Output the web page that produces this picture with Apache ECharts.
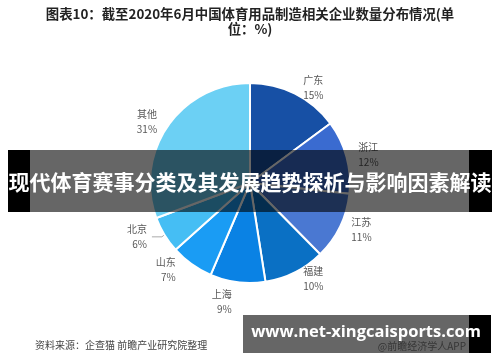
<!DOCTYPE html>
<html><head><meta charset="utf-8">
<script src="https://cdn.jsdelivr.net/npm/echarts@6/dist/echarts.min.js"></script>
<style>html,body{margin:0;padding:0;background:#fff}#c{width:500px;height:362px}</style>
</head><body><div id="c"></div>
<script>
const categories = ['广东','浙江','江苏','福建','上海','山东','北京','其他'];
const values = [15,12,11,10,9,7,6,31];
const colors = ['#1750a5','#3a6bd0','#4a78d2','#0a70c4','#0a82e4','#1a9cf4','#45bef4','#6cd0f4'];
const titleText = '图表10：截至2020年6月中国体育用品制造相关企业数量分布情况(单\n位：%)';
const sourceText = '资料来源：企查猫 前瞻产业研究院整理';
const bannerText = '现代体育赛事分类及其发展趋势探析与影响因素解读';
const siteText = 'www.net-xingcaisports.com';
const fontCJK = '"Noto Sans CJK SC", sans-serif';

const chart = echarts.init(document.getElementById('c'), null, {renderer:'canvas'});
chart.setOption({
  animation: false,
  backgroundColor: '#fff',
  series: [{
    type: 'pie',
    center: [250, 183],
    radius: [0, 100],
    startAngle: 90,
    clockwise: true,
    itemStyle: {borderColor: '#fff', borderWidth: 2},
    label: {
      show: true, position: 'outside',
      formatter: p => p.name + '\n' + p.value + '%',
      fontFamily: fontCJK, fontSize: 10, color: '#595959', lineHeight: 15
    },
    labelLine: {show: false, length: 7, length2: 0},
    emphasis: {disabled: true},
    data: categories.map((n, i) => ({
      name: n, value: values[i], itemStyle: {color: colors[i]},
      labelLine: n === '北京' ? {show: true, length: 4, length2: 10, lineStyle: {color: '#aaa', width: 1}} : undefined
    }))
  }],
  graphic: [
    {type: 'text', x: 250, y: 6, z: 10,
     style: {text: titleText, font: 'bold 13.4px ' + fontCJK, fill: '#222', align: 'center', lineHeight: 15}},
    {type: 'text', left: 35, top: 340, z: 10,
     style: {text: sourceText, font: '10px ' + fontCJK, fill: '#444'}},
    {type: 'rect', shape: {x: 8, y: 150, width: 22, height: 62}, style: {fill: '#000'}, z: 20},
    {type: 'rect', shape: {x: 30, y: 150, width: 439, height: 62}, style: {fill: 'rgba(0,0,0,0.6)'}, z: 20},
    {type: 'rect', shape: {x: 469, y: 150, width: 23, height: 62}, style: {fill: '#000'}, z: 20},
    {type: 'text', x: 250, y: 182, z: 21,
     style: {text: bannerText, font: 'bold 21px ' + fontCJK, fill: '#fff', align: 'center', verticalAlign: 'middle'}},
    {type: 'text', x: 466, y: 346, z: 19,
     style: {text: '@前瞻经济学人APP', font: '10px ' + fontCJK, fill: '#888', align: 'right', verticalAlign: 'middle'}},
    {type: 'rect', shape: {x: 243, y: 315, width: 226, height: 38}, style: {fill: 'rgba(0,0,0,0.6)'}, z: 20},
    {type: 'rect', shape: {x: 469, y: 315, width: 22, height: 38}, style: {fill: '#000'}, z: 20},
    {type: 'text', x: 366, y: 332, z: 21,
     style: {text: siteText, font: 'bold 16.5px "Open Sans", sans-serif', fill: '#fff', align: 'center', verticalAlign: 'middle'}}
  ]
});
</script></body></html>
